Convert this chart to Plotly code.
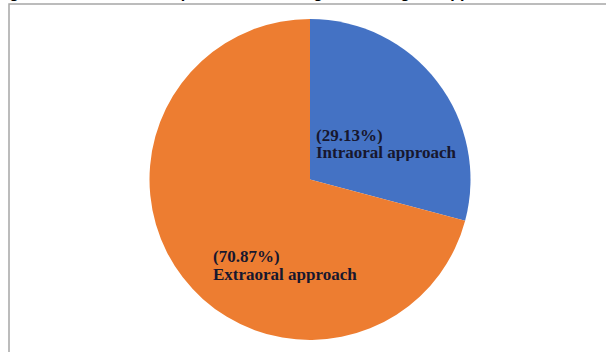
import plotly.graph_objects as go

# Share of cases by surgical approach (percent)
approaches = ["Intraoral approach", "Extraoral approach"]
shares = [29.13, 70.87]
slice_colors = ["#4472C4", "#ED7D31"]

W, H = 606, 352

fig = go.Figure(
    go.Pie(
        labels=approaches,
        values=shares,
        sort=False,
        direction="clockwise",
        rotation=0,
        marker=dict(colors=slice_colors, line=dict(width=0)),
        textinfo="none",
        hoverinfo="label+percent",
        showlegend=False,
        domain=dict(
            x=[(310 - 160.5) / W, (310 + 160.5) / W],
            y=[1 - 340 / H, 1 - 19 / H],
        ),
    )
)


def px(x, y):
    return x / W, 1 - y / H


label_font = dict(family="Liberation Serif, Times New Roman, serif", size=17, color="#17172e")
# left edge / vertical centre (pixels) of the two text lines for each slice
label_pos = [((315, 135), (315, 153)), ((212, 256), (212, 274))]

annotations = []
for name, val, (p1, p2) in zip(approaches, shares, label_pos):
    for text, (x, y) in ((f"<b>({val:.2f}%)</b>", p1), (f"<b>{name}</b>", p2)):
        ax, ay = px(x, y)
        annotations.append(
            dict(
                text=text, x=ax, y=ay, xref="paper", yref="paper",
                xanchor="left", yanchor="middle", showarrow=False,
                font=label_font, align="left", height=17, borderpad=0,
            )
        )

# caption sitting above the chart frame (only its lower edge falls inside the page)
tx, ty = px(-6, 2.5)
annotations.append(
    dict(
        text="<b>Figure 3: Distribution of patients according to the surgical approach</b>",
        x=tx, y=ty, xref="paper", yref="paper", xanchor="left", yanchor="bottom",
        showarrow=False, borderpad=0,
        font=dict(family="Liberation Sans, Arial, sans-serif", size=16, color="#000000"),
    )
)

# chart frame
fx0, fy0 = px(9, 4)
fx1, fy1 = px(W + 20, H + 20)
shapes = [
    dict(type="rect", xref="paper", yref="paper", x0=fx0, y0=fy1, x1=fx1, y1=fy0,
         line=dict(color="#a6a6a6", width=1.5), fillcolor="rgba(0,0,0,0)", layer="below")
]

fig.update_layout(
    width=W, height=H,
    margin=dict(l=0, r=0, t=0, b=0),
    paper_bgcolor="#ffffff", plot_bgcolor="#ffffff",
    annotations=annotations, shapes=shapes,
)

fig.write_html("out.html")
